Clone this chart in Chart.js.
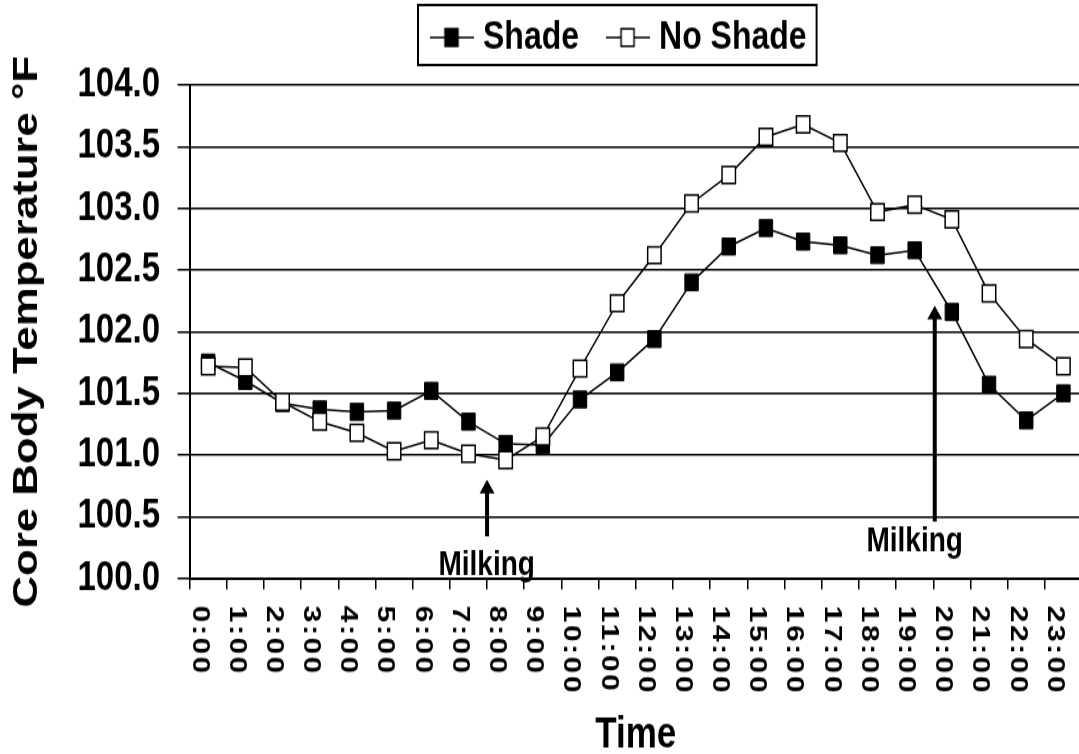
<!DOCTYPE html>
<html>
<head>
<meta charset="utf-8">
<script src="https://cdn.jsdelivr.net/npm/chart.js@4.4.0/dist/chart.umd.min.js"></script>
<style>
html, body { margin: 0; padding: 0; background: #fff; overflow: hidden; width: 1079px; height: 754px; }
#outer { width: 1079px; height: 754px; overflow: hidden; position: relative; }
#wrap { position: absolute; left: 0; top: 0; width: 1083px; height: 603px; transform: scaleY(1.25); transform-origin: 0 0; }
canvas { display: block; }
</style>
</head>
<body>
<div id="outer"><div id="wrap"><canvas id="c" width="1083" height="603"></canvas></div></div>
<script>
// ---- data ----
const timeLabels = ['0:00','1:00','2:00','3:00','4:00','5:00','6:00','7:00','8:00','9:00','10:00','11:00',
                    '12:00','13:00','14:00','15:00','16:00','17:00','18:00','19:00','20:00','21:00','22:00','23:00'];
const shadeTemps = [101.75, 101.60, 101.42, 101.37, 101.35, 101.36, 101.52, 101.27, 101.09, 101.08, 101.45, 101.67,
                    101.94, 102.40, 102.69, 102.84, 102.73, 102.70, 102.62, 102.66, 102.16, 101.57, 101.28, 101.50];
const noShadeTemps = [101.72, 101.71, 101.43, 101.27, 101.18, 101.03, 101.12, 101.01, 100.96, 101.15, 101.70, 102.23,
                      102.62, 103.04, 103.27, 103.58, 103.68, 103.53, 102.97, 103.03, 102.91, 102.31, 101.94, 101.72];
const yTickValues = [100.0, 100.5, 101.0, 101.5, 102.0, 102.5, 103.0, 103.5, 104.0];
const seriesNames = ['Shade', 'No Shade'];
const xAxisTitle = 'Time';
const yAxisTitle = 'Core Body Temperature °F';
// annotations in data units (category index, temperature)
const milkingNotes = [
  { text: 'Milking', x: 7.5,   tip: 100.80, tail: 100.34, textX: 7.49,  textY: 100.10 },
  { text: 'Milking', x: 19.54, tip: 102.21, tail: 100.46, textX: 19.0,  textY: 100.30 }
];

const FONT = '"Liberation Sans", Arial, Helvetica, sans-serif';

// legend symbols: line through a square
function makeSymbol(fill) {
  const c = document.createElement('canvas');
  c.width = 44; c.height = 20;
  const g = c.getContext('2d');
  g.strokeStyle = '#000'; g.lineWidth = 1.5;
  g.beginPath(); g.moveTo(0, 10); g.lineTo(44, 10); g.stroke();
  g.fillStyle = fill;
  g.fillRect(15.5, 3, 13, 14);
  g.lineWidth = 1.5;
  g.strokeRect(15.5, 3, 13, 14);
  return c;
}
const legendSymbols = [makeSymbol('#000'), makeSymbol('#fff')];

const LEGEND_FONT = 32;
const LEGEND_PAD = 33;
const legendPlace = {
  id: 'legendPlace',
  afterLayout(chart) {
    const lg = chart.legend;
    if (!lg || !lg.lineWidths) return;
    const pad = lg.options.labels.padding;
    const start = (lg.left + pad + lg.right - lg.lineWidths[0]) / 2;
    const dx = 436 - start;
    const dy = 30 - (lg.top + pad + LEGEND_FONT / 2);
    lg.left += dx; lg.right += dx; lg.top += dy;
    chart.$legendFrame = {
      x0: 418, x1: 436 + lg.lineWidths[0] - pad + 10, y0: 4, y1: 52
    };
  },
  afterDraw(chart) {
    const f = chart.$legendFrame;
    if (!f) return;
    const ctx = chart.ctx;
    ctx.save();
    ctx.strokeStyle = '#000'; ctx.lineWidth = 2;
    ctx.strokeRect(f.x0, f.y0, f.x1 - f.x0, f.y1 - f.y0);
    ctx.restore();
  }
};

const xLabelPlugin = {
  id: 'xLabelPlugin',
  afterDraw(chart) {
    const xs = chart.scales.x;
    const ctx = chart.ctx;
    ctx.save();
    ctx.fillStyle = '#000';
    ctx.font = 'bold 24px ' + FONT;
    ctx.textAlign = 'left';
    ctx.textBaseline = 'middle';
    if ('letterSpacing' in ctx) ctx.letterSpacing = '2px';
    timeLabels.forEach((lab, i) => {
      const x = xs.getPixelForTick(i) - 9;
      const y = xs.top + 9 + 13;
      ctx.save();
      ctx.translate(x, y);
      ctx.rotate(Math.PI / 2);
      ctx.fillText(lab, 0, 0);
      ctx.restore();
    });
    ctx.restore();
  }
};

const milkingPlugin = {
  id: 'milkingPlugin',
  afterDatasetsDraw(chart) {
    const xs = chart.scales.x, ys = chart.scales.y;
    const ctx = chart.ctx;
    ctx.save();
    ctx.fillStyle = '#000'; ctx.strokeStyle = '#000';
    milkingNotes.forEach(n => {
      const x = xs.getPixelForValue(n.x);
      const yTip = ys.getPixelForValue(n.tip);
      const yTail = ys.getPixelForValue(n.tail);
      const head = 11;
      ctx.lineWidth = 4;
      ctx.beginPath(); ctx.moveTo(x, yTail); ctx.lineTo(x, yTip + head - 1); ctx.stroke();
      ctx.beginPath();
      ctx.moveTo(x, yTip); ctx.lineTo(x - 7.5, yTip + head); ctx.lineTo(x + 7.5, yTip + head);
      ctx.closePath(); ctx.fill();
      ctx.font = 'bold 28px ' + FONT;
      ctx.textAlign = 'center'; ctx.textBaseline = 'middle';
      ctx.fillText(n.text, xs.getPixelForValue(n.textX), ys.getPixelForValue(n.textY));
    });
    ctx.restore();
  }
};

new Chart(document.getElementById('c'), {
  type: 'line',
  data: {
    labels: timeLabels,
    datasets: [
      { label: seriesNames[0], data: shadeTemps, order: 1,
        borderColor: '#000', backgroundColor: '#000', borderWidth: 1.5, tension: 0,
        pointStyle: 'rect', pointRadius: 9.5, pointHoverRadius: 9.5,
        pointBackgroundColor: '#000', pointBorderColor: '#000', pointBorderWidth: 1 },
      { label: seriesNames[1], data: noShadeTemps, order: 0,
        borderColor: '#000', backgroundColor: '#fff', borderWidth: 1.5, tension: 0,
        pointStyle: 'rect', pointRadius: 9.5, pointHoverRadius: 9.5,
        pointBackgroundColor: '#fff', pointBorderColor: '#000', pointBorderWidth: 1.5 }
    ]
  },
  options: {
    responsive: false,
    animation: false,
    devicePixelRatio: 1,
    layout: { autoPadding: false, padding: { top: 17, right: 1, left: 0, bottom: 0 } },
    plugins: {
      tooltip: { enabled: false },
      legend: {
        display: true,
        position: 'top',
        maxHeight: 51,
        labels: {
          usePointStyle: true,
          pointStyleWidth: 31,
          padding: LEGEND_PAD,
          color: '#000',
          font: { family: FONT, size: LEGEND_FONT, weight: 'bold' },
          sort: (a, b) => a.datasetIndex - b.datasetIndex,
          generateLabels(chart) {
            const items = Chart.defaults.plugins.legend.labels.generateLabels(chart);
            items.forEach(it => { it.pointStyle = legendSymbols[it.datasetIndex]; });
            return items;
          }
        }
      }
    },
    scales: {
      x: {
        type: 'category',
        offset: true,
        grid: { display: true, drawOnChartArea: false, drawTicks: true, tickLength: 9,
                color: '#000', tickColor: '#000', lineWidth: 1.5, offset: true },
        border: { display: true, color: '#000', width: 2 },
        ticks: { color: 'rgba(0,0,0,0)', autoSkip: false, minRotation: 90, maxRotation: 90, padding: 0,
                 font: { family: FONT, size: 24, weight: 'bold', lineHeight: 0.7 } },
        title: { display: true, text: xAxisTitle, color: '#000',
                 font: { family: FONT, size: 35, weight: 'bold', lineHeight: 1 },
                 padding: { top: 38, bottom: -3 } }
      },
      y: {
        min: 100, max: 104,
        afterBuildTicks(scale) { scale.ticks = yTickValues.map(v => ({ value: v })); },
        ticks: { color: '#000', padding: 17.5, callback: (v) => Number(v).toFixed(1),
                 font: { family: FONT, size: 33, weight: 'bold' } },
        grid: { color: '#000', tickColor: '#000', lineWidth: 1.5, tickLength: 12 },
        border: { display: true, color: '#000', width: 2 },
        title: { display: true, text: yAxisTitle, color: '#000',
                 font: { family: FONT, size: 35, weight: 'bold', lineHeight: 1 },
                 padding: { top: 10, bottom: 15 } }
      }
    }
  },
  plugins: [legendPlace, xLabelPlugin, milkingPlugin]
});
</script>
</body>
</html>
